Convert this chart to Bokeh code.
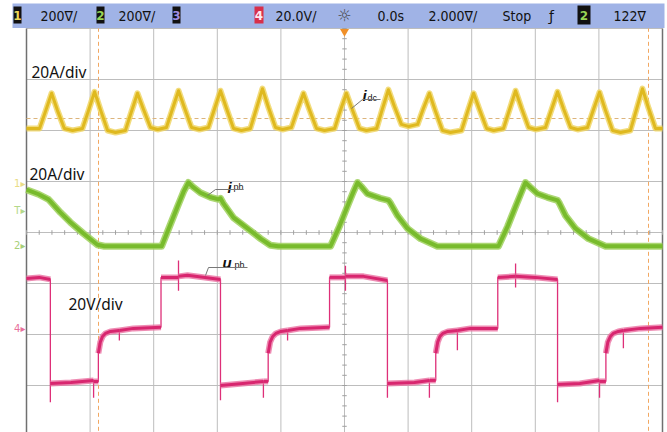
import numpy as np
from bokeh.plotting import figure
from bokeh.models import Range1d
from bokeh.core.properties import value
from bokeh.embed import file_html
from bokeh.resources import INLINE

# ---------------- data (time in ms, 2 ms/div; amplitude in screen divisions) -------------
idc_t = [-10.00,
         -9.59, -9.40, -9.21, -9.03, -8.81, -8.55,
         -8.24, -8.05, -7.86, -7.67, -7.45, -7.20,
         -6.89, -6.70, -6.51, -6.32, -6.10, -5.88,
         -5.60, -5.41, -5.22, -5.03, -4.81, -4.56,
         -4.28, -4.09, -3.90, -3.71, -3.49, -3.24,
         -2.96, -2.77, -2.58, -2.39, -2.17, -1.95,
         -1.67, -1.48, -1.29, -1.10, -0.88, -0.63,
         -0.31, -0.13, 0.06, 0.25, 0.47, 0.69,
         1.01, 1.19, 1.38, 1.57, 1.79, 2.01,
         2.30, 2.48, 2.67, 2.86, 3.08, 3.33,
         3.68, 3.87, 4.06, 4.25, 4.47, 4.69,
         5.00, 5.19, 5.38, 5.57, 5.79, 6.01,
         6.32, 6.51, 6.70, 6.89, 7.11, 7.33,
         7.64, 7.83, 8.02, 8.21, 8.43, 8.68,
         8.99, 9.18, 9.37, 9.56, 9.78, 10.00]
idc_v = [2.04,
         2.04, 2.38, 2.73, 2.40, 2.04, 2.00,
         2.04, 2.39, 2.76, 2.40, 2.00, 1.96,
         2.00, 2.37, 2.73, 2.41, 2.06, 2.02,
         2.06, 2.42, 2.78, 2.44, 2.06, 2.02,
         2.06, 2.42, 2.78, 2.43, 2.04, 2.00,
         2.04, 2.43, 2.82, 2.45, 2.06, 2.02,
         2.06, 2.40, 2.73, 2.40, 2.04, 2.00,
         2.04, 2.39, 2.73, 2.40, 2.04, 2.00,
         2.04, 2.42, 2.80, 2.47, 2.12, 2.08,
         2.12, 2.43, 2.73, 2.38, 2.00, 1.96,
         2.00, 2.37, 2.73, 2.40, 2.04, 2.00,
         2.04, 2.41, 2.78, 2.43, 2.06, 2.02,
         2.06, 2.41, 2.76, 2.42, 2.06, 2.02,
         2.06, 2.41, 2.75, 2.39, 2.00, 1.96,
         2.00, 2.41, 2.82, 2.44, 2.04, 2.04]

iph_t = [-10.00, -9.62, -9.31, -9.25, -8.93, -8.62, -8.21, -7.77, -7.55,
         -5.75, -5.50, -5.25, -5.06, -4.91, -4.78, -4.53, -4.21, -3.96, -3.90, -3.81, -3.49, -3.05, -2.64, -2.33, -2.08,
         -0.44, -0.16, 0.09, 0.28, 0.41, 0.53, 0.72, 1.13, 1.38, 1.45, 1.67, 1.98, 2.39, 2.92,
         4.84, 5.13, 5.38, 5.57, 5.69, 5.82, 6.07, 6.38, 6.70, 6.76, 6.95, 7.26, 7.67, 8.21, 10.00]
iph_v = [0.84, 0.75, 0.65, 0.61, 0.39, 0.20, -0.02, -0.24, -0.27,
         -0.27, 0.12, 0.51, 0.80, 0.98, 0.90, 0.78, 0.69, 0.65, 0.67, 0.57, 0.29, 0.08, -0.12, -0.25, -0.27,
         -0.27, 0.12, 0.51, 0.80, 0.98, 0.90, 0.76, 0.67, 0.63, 0.57, 0.33, 0.08, -0.12, -0.27,
         -0.27, 0.12, 0.51, 0.80, 0.98, 0.90, 0.76, 0.69, 0.63, 0.57, 0.33, 0.08, -0.12, -0.27, -0.27]

uph_t = [-10.00, -9.60, -9.25, -9.25, -9.25, -8.60, -7.89, -7.89, -7.89, -7.74, -7.74, -7.68, -7.61,
         -7.52, -7.36, -7.08, -7.08, -7.08, -6.64, -5.77, -5.77, -5.22, -5.22, -5.22, -5.22, -4.94,
         -3.90, -3.90, -3.90, -3.20, -2.55, -2.55, -2.55, -2.40, -2.40, -2.34, -2.26, -2.16, -2.00,
         -1.79, -1.79, -1.79, -1.38, -0.47, -0.47, 0.03, 0.03, 0.03, 0.03, 0.60, 1.35, 1.35, 1.35,
         2.20, 2.67, 2.67, 2.67, 2.87, 2.87, 2.93, 3.00, 3.09, 3.25, 3.55, 3.55, 3.55, 3.96, 4.82,
         4.82, 5.38, 5.38, 5.38, 5.38, 6.00, 6.70, 6.70, 6.70, 7.40, 8.02, 8.02, 8.02, 8.22, 8.22,
         8.28, 8.36, 8.45, 8.61, 8.77, 8.77, 8.77, 9.31, 10.00]
uph_v = [-0.90, -0.88, -0.92, -3.33, -2.96, -2.94, -2.90, -3.24, -2.92, -2.92, -2.37, -2.15, -2.04,
         -1.98, -1.94, -1.92, -2.12, -1.92, -1.88, -1.86, -0.88, -0.88, -0.55, -1.14, -0.86, -0.84,
         -0.92, -3.29, -3.00, -2.96, -2.92, -3.24, -2.92, -2.92, -2.37, -2.15, -2.04, -1.98, -1.94,
         -1.92, -2.12, -1.92, -1.88, -1.86, -0.88, -0.88, -0.65, -1.14, -0.86, -0.86, -0.94, -3.24, -2.96,
         -2.94, -2.90, -3.24, -2.90, -2.90, -2.37, -2.15, -2.04, -1.98, -1.94, -1.92, -2.31, -1.92, -1.88, -1.88,
         -0.88, -0.86, -0.61, -1.08, -0.86, -0.88, -0.92, -3.33, -2.98, -2.96, -2.90, -3.24, -2.92, -2.92, -2.37,
         -2.15, -2.04, -1.98, -1.94, -1.92, -2.27, -1.92, -1.88, -1.86]

header_texts = ["200\u2207/", "200\u2207/", "20.0V/", "0.0s", "2.000\u2207/", "Stop", "122\u2207"]
badge_texts = ["1", "2", "3", "4", "2"]
scale_texts = ["20A/div", "20A/div", "20V/div"]
marker_texts = ["1\u25b8", "T\u25b8", "2\u25b8", "4\u25b8"]

# ---------------- geometry helpers (pixel layout of the scope screen) ----------------
PX_MS, PX_DIV = 31.8, 51.0
X0, X1 = -344 / PX_MS, (667 - 344) / PX_MS
Y1, Y0 = 232 / PX_DIV, (232 - 432) / PX_DIV


def tx(px):
    return (px - 344) / PX_MS


def vy(py):
    return (232 - py) / PX_DIV


p = figure(width=667, height=432, x_range=Range1d(X0, X1), y_range=Range1d(Y0, Y1),
           output_backend="svg", toolbar_location=None, min_border=0,
           x_axis_location=None, y_axis_location=None, outline_line_color=None,
           background_fill_color="white", border_fill_color="white", title=None)
p.grid.visible = False

# graticule
gx = np.arange(-8, 8.01, 2)
p.segment(x0=gx, y0=-4.3, x1=gx, y1=4, line_color="#bdbdbd", line_width=1)
gy = np.arange(-3, 4.01, 1)
p.segment(x0=-10, y0=gy, x1=10, y1=gy, line_color="#bdbdbd", line_width=1)
p.segment(x0=[-10, 10], y0=-4.3, x1=[-10, 10], y1=4, line_color="#707070", line_width=1.5)
tk = np.arange(-10, 10.01, 0.4)
p.segment(x0=tk, y0=-0.045, x1=tk, y1=0.045, line_color="#a0a0a0", line_width=1)
tv = np.arange(-4, 4.01, 0.2)
p.segment(x0=-0.07, y0=tv, x1=0.07, y1=tv, line_color="#a0a0a0", line_width=1)

# cursors
p.segment(x0=[tx(98), tx(648)], y0=-4.3, x1=[tx(98), tx(648)], y1=4,
          line_color="#f2a862", line_width=1, line_dash="4 3")
p.segment(x0=-10, y0=vy(118), x1=10, y1=vy(118), line_color="#dcb47c", line_width=1, line_dash="4 3")

# traces (light noise band + core)
p.line(idc_t, idc_v, line_color="#efd35c", line_width=6, line_join="round", line_alpha=0.8)
p.line(idc_t, idc_v, line_color="#dfb91f", line_width=3, line_join="round")
p.line(iph_t, iph_v, line_color="#9dd05a", line_width=7, line_join="round", line_alpha=0.85)
p.line(iph_t, iph_v, line_color="#78bb2c", line_width=4, line_join="round")
p.line(uph_t, uph_v, line_color="#de2f78", line_width=1.3)
runs, cur = [], [0]
for i in range(1, len(uph_t)):
    if uph_t[i] > uph_t[i - 1]:
        cur.append(i)
    else:
        if len(cur) > 1:
            runs.append(cur)
        cur = [i]
if len(cur) > 1:
    runs.append(cur)
rx = [[uph_t[j] for j in r] for r in runs]
ry = [[uph_v[j] for j in r] for r in runs]
p.multi_line(xs=rx, ys=ry, line_color="#ea6fa0", line_width=6, line_join="round", line_alpha=0.8)
p.multi_line(xs=rx, ys=ry, line_color="#d8266f", line_width=3, line_join="round")

# header bar
p.quad(left=tx(12), right=tx(664), bottom=vy(27.5), top=vy(3), fill_color="#a0b3e6", line_color=None)
p.rect(x=[tx(17), tx(100), tx(176), tx(258.5), tx(583.5)], y=vy(14.5),
       width=[8, 8, 8, 9, 13], height=[17, 17, 17, 17, 19], width_units="screen", height_units="screen",
       fill_color=["#111111", "#111111", "#111111", "#d8304a", "#111111"], line_color=None)
p.text(x=[tx(17), tx(100), tx(176), tx(258.5), tx(583.5)], y=[vy(14.5)] * 5, text=badge_texts,
       text_color=["#ecd95a", "#96d455", "#9f8ce0", "#ffe8ee", "#96d455"],
       text_font=value("DejaVu Sans"), text_font_style="bold", text_font_size="12px",
       text_align="center", text_baseline="middle")
p.text(x=[tx(40), tx(118), tx(275), tx(377), tx(428), tx(502), tx(613)], y=[vy(15)] * 7,
       text=header_texts, text_color="#111111", text_font=value("DejaVu Sans Condensed"),
       text_font_size="14px", text_align="left", text_baseline="middle")
p.text(x=[tx(344)], y=[vy(15)], text=["\u263c"], text_color="#4a4a4a", text_font=value("DejaVu Sans"),
       text_font_size="16px", text_align="center", text_baseline="middle")
p.text(x=[tx(551)], y=[vy(15)], text=["\u0192"], text_color="#111111", text_font=value("DejaVu Sans"),
       text_font_size="14px", text_align="center", text_baseline="middle")
p.scatter(x=[0], y=[vy(31)], marker="inverted_triangle", size=9, fill_color="#f0902a", line_color=None)

# channel markers at the left
p.text(x=[tx(25)] * 4, y=[vy(183), vy(210), vy(245), vy(328)], text=marker_texts,
       text_color=["#e9dc86", "#b4d88a", "#a8cf78", "#e8729c"], text_font=value("DejaVu Sans"),
       text_font_size="10px", text_align="right", text_baseline="middle")

# scale labels
p.text(x=[tx(31), tx(29), tx(68)], y=[vy(71.5), vy(173), vy(303)], text=scale_texts,
       text_color="#111111", text_font=value("Noto Sans"), text_font_size="15.5px",
       text_align="left", text_baseline="middle")

# trace names with leader lines
p.text(x=[tx(362), tx(227), tx(222)], y=[vy(95), vy(187), vy(262)], text=["i", "i", "u"],
       text_color="#111111", text_font=value("Liberation Sans"), text_font_style="bold italic",
       text_font_size="15px", text_align="left", text_baseline="alphabetic")
p.text(x=[tx(367), tx(233), tx(234)], y=[vy(97), vy(186), vy(264)], text=["dc", "ph", "ph"],
       text_color="#111111", text_font=value("Liberation Sans"), text_font_size="9px",
       text_align="left", text_baseline="alphabetic")
p.multi_line(xs=[[tx(380), tx(362), tx(351)], [tx(243), tx(215), tx(207)], [tx(247), tx(208), tx(205)]],
             ys=[[vy(99), vy(99), vy(108)], [vy(189), vy(189), vy(195)], [vy(267), vy(267), vy(275)]],
             line_color="#777777", line_width=1)

open("out.html", "w").write(file_html(p, INLINE))
